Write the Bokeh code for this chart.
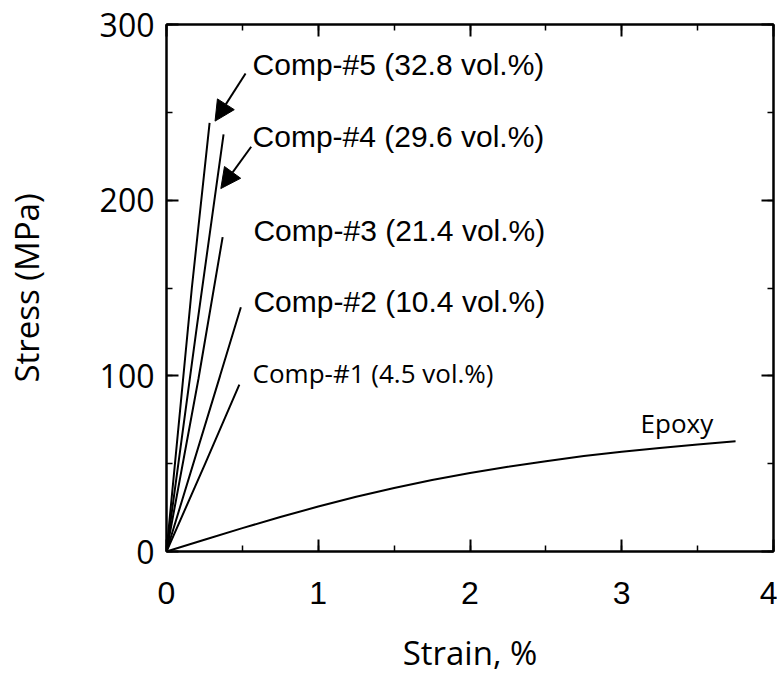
from bokeh.plotting import figure
from bokeh.models import (LinearAxis, SingleIntervalTicker, Arrow, NormalHead,
                          Range1d, CustomJSTickFormatter)
from bokeh.core.properties import value
from bokeh.embed import file_html
from bokeh.resources import INLINE

# ---- data ----
epoxy_strain = [0, 0.25, 0.5, 0.75, 1.0, 1.25, 1.5, 1.75, 2.0, 2.25, 2.5, 2.75, 3.0, 3.25, 3.5, 3.75]
epoxy_stress = [0, 6.7, 13.3, 19.6, 25.6, 31.2, 36.2, 40.7, 44.7, 48.2, 51.4, 54.3, 56.8, 58.9, 60.9, 62.7]

comp1_strain = [0, 0.255, 0.48]
comp1_stress = [0, 50, 95]
comp2_strain = [0, 0.353, 0.49]
comp2_stress = [0, 100, 139]
comp3_strain = [0, 0.211, 0.37]
comp3_stress = [0, 98.5, 179]
comp4_strain = [0, 0.20, 0.376]
comp4_stress = [0, 128, 237.5]
comp5_strain = [0, 0.167, 0.284]
comp5_stress = [0, 150, 244]

label_texts = ["Comp-#5 (32.8 vol.%)", "Comp-#4 (29.6 vol.%)", "Comp-#3 (21.4 vol.%)",
               "Comp-#2 (10.4 vol.%)"]
label_x = [0.567, 0.567, 0.573, 0.573]
label_y = [277.5, 236.5, 182.5, 142.5]

label2_texts = ["Comp-#1 (4.5 vol.%)", "Epoxy"]
label2_x = [0.567, 3.124]
label2_y = [101.5, 73.0]

arrow_x_start = [0.521, 0.558]
arrow_y_start = [272.1, 230.4]
arrow_x_end = [0.320, 0.358]
arrow_y_end = [245.0, 206.6]

x_ticks_interval = 1
y_ticks_interval = 100

# ---- figure ----
p = figure(frame_width=607, frame_height=527, output_backend="svg", toolbar_location=None,
           x_range=Range1d(0, 4), y_range=Range1d(0, 300),
           min_border_left=165, min_border_right=4, min_border_top=24, min_border_bottom=120,
           x_axis_type=None, y_axis_type=None)
p.xgrid.visible = False
p.ygrid.visible = False
p.outline_line_color = "black"
p.outline_line_width = 2
p.background_fill_color = "white"
p.border_fill_color = "white"

def style_axis(ax, show_labels):
    ax.axis_line_width = 2
    ax.axis_line_color = "black"
    ax.major_tick_in = 12
    ax.major_tick_out = 0
    ax.minor_tick_in = 6
    ax.minor_tick_out = 0
    ax.major_tick_line_width = 2
    ax.minor_tick_line_width = 1.5
    ax.major_tick_line_color = "black"
    ax.minor_tick_line_color = "black"
    if not show_labels:
        ax.formatter = CustomJSTickFormatter(code="return ''")
        ax.major_label_standoff = 0
        ax.major_label_text_font_size = "1px"

xb = LinearAxis(ticker=SingleIntervalTicker(interval=x_ticks_interval, num_minor_ticks=2))
style_axis(xb, True)
xb.major_label_text_font = "Liberation Sans"
xb.major_label_text_font_size = "32px"
xb.major_label_text_color = "black"
xb.major_label_standoff = 30
xb.axis_label = "Strain, %"
xb.axis_label_text_font = "Open Sans"
xb.axis_label_text_font_size = "33px"
xb.axis_label_text_font_style = "normal"
xb.axis_label_text_color = "black"
xb.axis_label_standoff = 23
p.add_layout(xb, "below")

yl = LinearAxis(ticker=SingleIntervalTicker(interval=y_ticks_interval, num_minor_ticks=2))
style_axis(yl, True)
yl.major_label_text_font = "Open Sans"
yl.major_label_text_font_size = "32px"
yl.major_label_text_color = "black"
yl.major_label_standoff = 12
yl.axis_label = "Stress (MPa)"
yl.axis_label_text_font = "Open Sans"
yl.axis_label_text_font_size = "33px"
yl.axis_label_text_font_style = "normal"
yl.axis_label_text_color = "black"
yl.axis_label_standoff = 48
p.add_layout(yl, "left")

xt = LinearAxis(ticker=SingleIntervalTicker(interval=x_ticks_interval, num_minor_ticks=2))
style_axis(xt, False)
p.add_layout(xt, "above")

yr = LinearAxis(ticker=SingleIntervalTicker(interval=y_ticks_interval, num_minor_ticks=2))
style_axis(yr, False)
p.add_layout(yr, "right")

# ---- curves ----
for xs, ys in [(epoxy_strain, epoxy_stress), (comp1_strain, comp1_stress),
               (comp2_strain, comp2_stress), (comp3_strain, comp3_stress),
               (comp4_strain, comp4_stress), (comp5_strain, comp5_stress)]:
    p.line(xs, ys, line_color="black", line_width=2)

# ---- labels ----
p.text(x=label_x, y=label_y, text=label_texts, text_font=value("Liberation Sans"),
       text_font_size="30px", text_baseline="alphabetic", text_align="left",
       text_color="black")
p.text(x=label2_x, y=label2_y, text=label2_texts, text_font=value("Open Sans"),
       text_font_size="26px", text_baseline="alphabetic", text_align="left",
       text_color="black")

# ---- arrows ----
for xs_, ys_, xe_, ye_ in zip(arrow_x_start, arrow_y_start, arrow_x_end, arrow_y_end):
    p.add_layout(Arrow(end=NormalHead(size=20, fill_color="black", line_color="black"),
                       x_start=xs_, y_start=ys_, x_end=xe_, y_end=ye_,
                       line_color="black", line_width=2))

open("out.html", "w").write(file_html(p, INLINE))
